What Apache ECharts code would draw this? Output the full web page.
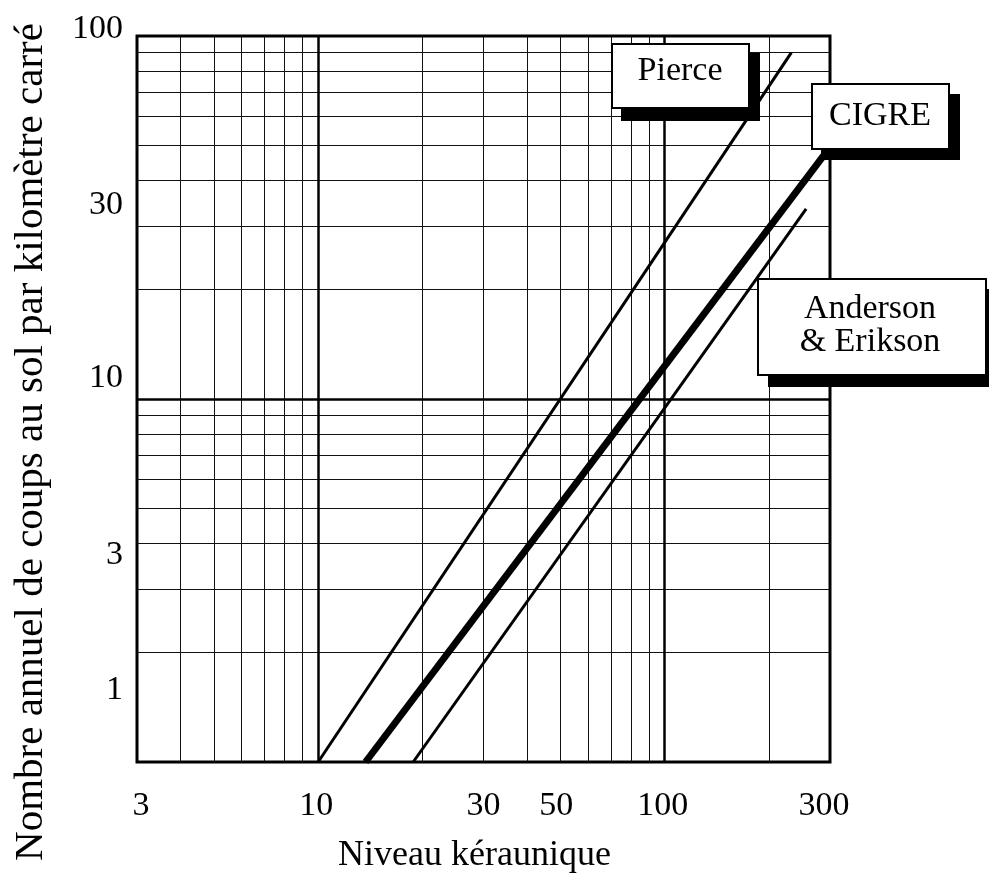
<!DOCTYPE html>
<html><head><meta charset="utf-8">
<script src="https://cdn.jsdelivr.net/npm/echarts@6/dist/echarts.min.js"></script>
<style>html,body{margin:0;padding:0;background:#fff}#c{width:989px;height:879px}</style>
</head><body><div id="c"></div>
<script>
// ---- data ----
const xTickLabels = [3, 10, 30, 50, 100, 300];
const yTickLabels = [1, 3, 10, 30, 100];
const xMinorGrid = [4, 5, 6, 7, 8, 9, 20, 30, 40, 50, 60, 70, 80, 90, 200];
const xMajorGrid = [10, 100];
const yMinorGrid = [2, 3, 4, 5, 6, 7, 8, 9, 20, 30, 40, 50, 60, 70, 80, 90];
const yMajorGrid = [10];
const pierce = [[10, 1], [232, 90]];
const cigre = [[13.7, 1], [300, 49.4]];
const andersonErikson = [[18.8, 1], [256, 33.4]];

// ---- styling ----
const FONT = "'Liberation Serif', 'Times New Roman', serif";
const yLabelLift = [72, 34, 21, 21, 7];      // px moved up (as in reference)
const xLabelNudge = [4, -2, 0, -4, -2, -6];  // px moved right
function idxOf(arr, v) {
  let best = 0, bd = Infinity;
  arr.forEach((t, i) => { const d = Math.abs(Math.log10(v) - Math.log10(t)); if (d < bd) { bd = d; best = i; } });
  return best;
}
const yRich = {}, xRich = {};
yTickLabels.forEach((t, i) => { yRich['y' + i] = { fontFamily: FONT, fontSize: 34, color: '#000', padding: [0, 0, 2 * yLabelLift[i], 0] }; });
xTickLabels.forEach((t, i) => { const s = xLabelNudge[i]; xRich['x' + i] = { fontFamily: FONT, fontSize: 34, color: '#000', padding: [0, s < 0 ? -2 * s : 0, 0, s > 0 ? 2 * s : 0] }; });

const gridLines = [].concat(
  xMinorGrid.map(v => ({ xAxis: v, lineStyle: { width: 1, color: '#111', type: 'solid' } })),
  yMinorGrid.map(v => ({ yAxis: v, lineStyle: { width: 1, color: '#111', type: 'solid' } })),
  xMajorGrid.map(v => ({ xAxis: v, lineStyle: { width: 2.5, color: '#000', type: 'solid' } })),
  yMajorGrid.map(v => ({ yAxis: v, lineStyle: { width: 2.5, color: '#000', type: 'solid' } }))
);

function lineSeries(name, data, w) {
  return { name, type: 'line', data, symbol: 'none', z: 10, silent: true, animation: false,
    lineStyle: { color: '#000', width: w, cap: 'butt' }, emphasis: { disabled: true } };
}
const s1 = lineSeries('Pierce', pierce, 3);
s1.markLine = { silent: true, animation: false, z: 1, symbol: ['none', 'none'], label: { show: false },
  lineStyle: { type: 'solid' }, emphasis: { disabled: true }, data: gridLines };

function box(x, y, w, h, sx, sy, sw, sh) {
  return [
    { type: 'rect', z: 100, shape: { x: sx, y: sy, width: sw, height: sh }, style: { fill: '#000' }, silent: true },
    { type: 'rect', z: 101, shape: { x, y, width: w, height: h }, style: { fill: '#fff', stroke: '#000', lineWidth: 2 }, silent: true }
  ];
}
function label(text, x, y) {
  return { type: 'text', z: 102, silent: true, x, y,
    style: { text, fontFamily: FONT, fontSize: 34, fill: '#000', align: 'center', verticalAlign: 'middle', textAlign: 'center', textVerticalAlign: 'middle' } };
}

const chart = echarts.init(document.getElementById('c'), null, { renderer: 'canvas' });
chart.setOption({
  animation: false,
  backgroundColor: '#fff',
  grid: { left: 137, right: 159, top: 36, bottom: 117, show: true, borderColor: '#000', borderWidth: 3, backgroundColor: '#fff' },
  xAxis: {
    type: 'log', logBase: 10, min: 3, max: 300,
    axisLine: { show: false }, axisTick: { show: false }, splitLine: { show: false },
    axisLabel: { customValues: xTickLabels, margin: 27, fontFamily: FONT, fontSize: 34, color: '#000',
      formatter: v => '{x' + idxOf(xTickLabels, v) + '|' + xTickLabels[idxOf(xTickLabels, v)] + '}', rich: xRich },
    name: 'Niveau kéraunique', nameLocation: 'middle', nameGap: 94,
    nameTextStyle: { fontFamily: FONT, fontSize: 36, color: '#000', verticalAlign: 'middle', padding: [0, 18, 0, 0] }
  },
  yAxis: {
    type: 'log', logBase: 10, min: 1, max: 100,
    axisLine: { show: false }, axisTick: { show: false }, splitLine: { show: false },
    axisLabel: { customValues: yTickLabels, margin: 14, fontFamily: FONT, fontSize: 34, color: '#000',
      formatter: v => '{y' + idxOf(yTickLabels, v) + '|' + yTickLabels[idxOf(yTickLabels, v)] + '}', rich: yRich },
    name: 'Nombre annuel de coups au sol par kilomètre carré', nameLocation: 'middle', nameRotate: 90, nameGap: 106,
    nameTextStyle: { fontFamily: FONT, fontSize: 41, color: '#000', verticalAlign: 'middle', padding: [0, 86, 0, 0] }
  },
  series: [
    s1,
    lineSeries('CIGRE', cigre, 7),
    lineSeries('Anderson & Erikson', andersonErikson, 3)
  ],
  graphic: { elements: [].concat(
    box(612, 44, 137, 64, 621, 53, 139, 68),
    box(812, 84, 137, 65, 821, 94, 139, 66),
    box(758, 279, 228, 96, 768, 289, 225, 98),
    [label('Pierce', 680, 71.5), label('CIGRE', 880, 116.5), label('Anderson', 870, 309.5), label('& Erikson', 870, 342.5)]
  ) }
});
</script></body></html>
